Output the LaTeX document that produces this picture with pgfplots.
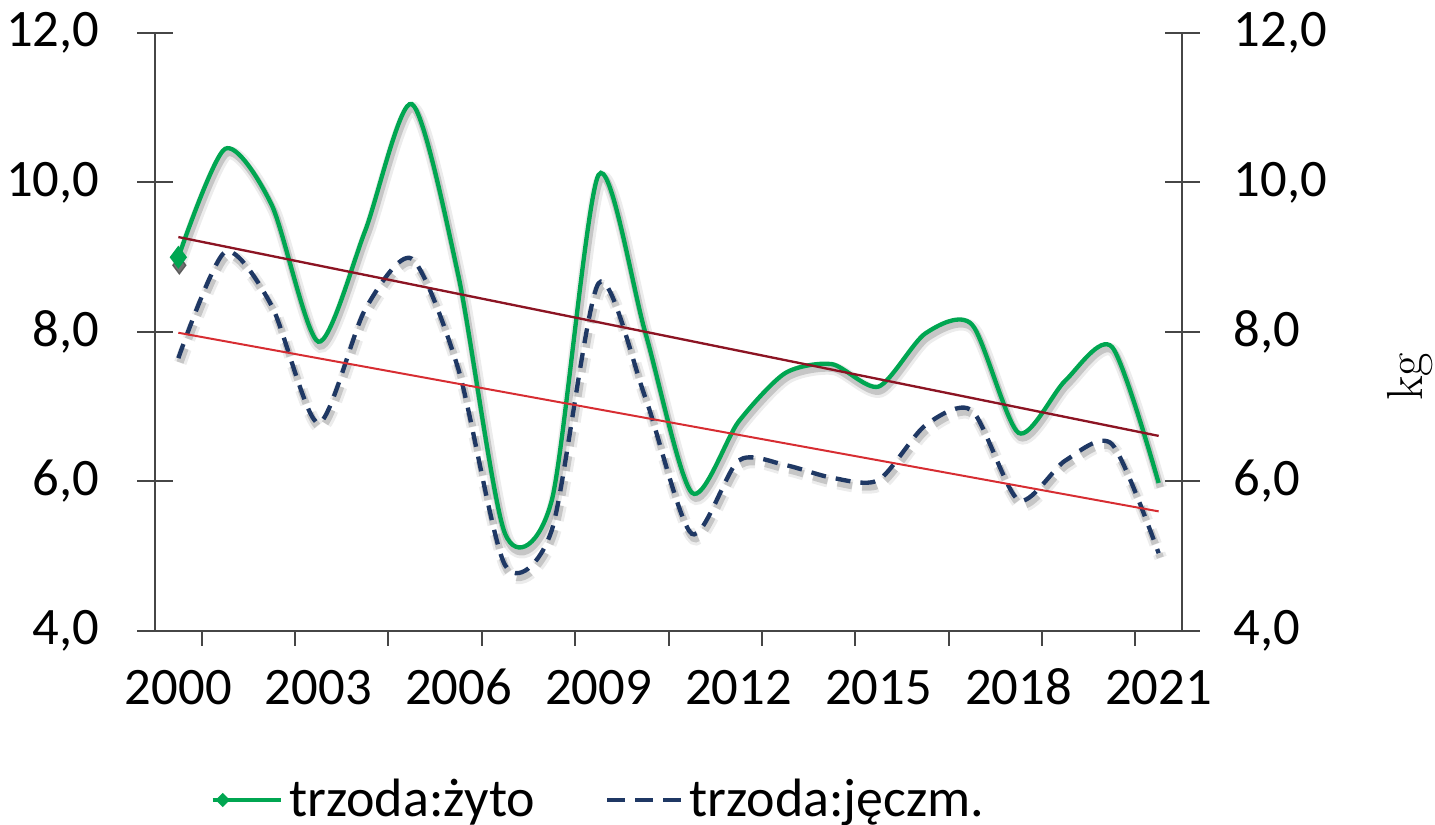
\documentclass[border=0pt]{standalone}
\usepackage{pgfplots}
\pgfplotsset{compat=1.18}
\usepackage{fontspec}
\setmainfont{Carlito}
\usetikzlibrary{shapes.geometric}
\definecolor{zgreen}{RGB}{0,166,81}
\definecolor{jblue}{RGB}{31,56,100}
\definecolor{trA}{RGB}{140,20,35}
\definecolor{trB}{RGB}{215,45,50}
\definecolor{axgray}{RGB}{70,70,70}

\pgfplotstableread{
year zyto jeczm
2000 9.00 7.65
2001 10.45 9.07
2002 9.70 8.35
2003 7.87 6.78
2004 9.35 8.30
2005 11.05 8.98
2006 8.75 7.50
2007 5.30 4.88
2008 5.75 5.35
2009 10.10 8.65
2010 8.00 7.13
2011 5.85 5.30
2012 6.80 6.28
2013 7.45 6.22
2014 7.57 6.05
2015 7.27 6.02
2016 7.98 6.75
2017 8.10 6.95
2018 6.65 5.75
2019 7.35 6.28
2020 7.80 6.50
2021 5.98 5.04
}\data

\newcommand\tfont{\fontsize{15.8}{18.8}\selectfont}
\newcommand\lfont{\fontsize{16.2}{19.4}\selectfont}

\pgfplotsset{base/.style={scale only axis, width=308.1pt, height=179.4pt,
  xmin=1999.5, xmax=2021.5, ymin=4, ymax=12,
  axis line style={axgray, line width=0.6pt},
  every tick/.style={axgray, line width=0.6pt},
  /pgf/number format/assume math mode=true},
  sm/.style={smooth, tension=0.45}}

\begin{document}
\begin{tikzpicture}
% x labels and x tick marks
\begin{axis}[base, axis x line*=bottom, axis y line=none, ytick=\empty,
  xtick={2000,2003,...,2021},
  xticklabels={2000,2003,2006,2009,2012,2015,2018,2021},
  major tick length=0pt,
  minor xtick={2000.5,2002.5,...,2020.5},
  minor tick length=4.5pt, tick align=outside,
  xticklabel style={font=\tfont, anchor=base, inner sep=0pt, yshift=-22.2pt}]
\end{axis}
% right axis
\begin{axis}[base, axis y line*=right, axis x line=none, xtick=\empty,
  ytick={4,6,...,12}, tick align=center, major tick length=10.5pt,
  yticklabel style={font=\tfont, anchor=west, inner sep=0pt, xshift=10.05pt,
    /pgf/number format/.cd, fixed, fixed zerofill, precision=1, use comma},
  ylabel={kg},
  every axis y label/.style={at={(axis description cs:1.222,0.425)}, rotate=90, anchor=center,
    font=\fontfamily{lmr}\fontsize{15.2}{18}\selectfont}]
\end{axis}
% main axis
\begin{axis}[base, name=ax, axis x line*=bottom, axis y line*=left, xtick=\empty,
  ytick={4,6,...,12}, tick align=center, major tick length=10.5pt,
  yticklabel style={font=\tfont, anchor=east, inner sep=0pt, xshift=-11.25pt,
    /pgf/number format/.cd, fixed, fixed zerofill, precision=1, use comma},
  legend columns=2,
  legend style={at={(0.434,-0.2826)}, anchor=center, draw=none, fill=none,
    font=\lfont, inner sep=0pt,
    nodes={inner xsep=2pt, inner ysep=1pt},
    /tikz/every even column/.append style={column sep=19pt}},
  legend cell align=left]
% shadows
\addplot[sm, gray, opacity=0.15, line width=3.8pt, xshift=0.6pt, yshift=-1.4pt, forget plot] table[x=year,y=zyto]{\data};
\addplot[sm, gray, opacity=0.35, line width=2.2pt, xshift=0.5pt, yshift=-1.3pt, forget plot] table[x=year,y=zyto]{\data};
\addplot[sm, gray, opacity=0.15, line width=3.8pt, xshift=0.6pt, yshift=-1.4pt, dash pattern=on 4.5pt off 3pt, forget plot] table[x=year,y=jeczm]{\data};
\addplot[sm, gray, opacity=0.35, line width=2.2pt, xshift=0.5pt, yshift=-1.3pt, dash pattern=on 4.5pt off 3pt, forget plot] table[x=year,y=jeczm]{\data};
\addplot[only marks, mark=diamond*, mark size=2.6pt, black!70, opacity=0.8, xshift=0.3pt, yshift=-2.4pt, forget plot] coordinates {(2000,9.0)};
% series
\addplot[sm, zgreen, line width=1.3pt, mark=diamond*, mark indices={1}, mark size=2.4pt,
  mark options={solid, fill=zgreen},
  legend image code/.code={\draw[zgreen, line width=1.3pt] (0pt,0pt) -- (20.4pt,0pt);
    \node[diamond, fill=zgreen, inner sep=0pt, minimum width=4.8pt, minimum height=4.8pt] at (0pt,0pt) {};}]
  table[x=year,y=zyto]{\data};
\addlegendentry{trzoda:żyto}
\addplot[sm, jblue, line width=1.3pt, dash pattern=on 4.5pt off 3pt,
  legend image code/.code={\draw[jblue, line width=1.3pt, dash pattern=on 5.4pt off 3pt] (0pt,0pt) -- (22pt,0pt);}]
  table[x=year,y=jeczm]{\data};
\addlegendentry{trzoda:jęczm.}
% trend lines
\addplot[sharp plot, trA, line width=0.7pt, forget plot] coordinates {(2000,9.27) (2021,6.61)};
\addplot[sharp plot, trB, line width=0.6pt, forget plot] coordinates {(2000,7.99) (2021,5.60)};
\end{axis}
\path (ax.south west) ++(-46.5pt,-58.2pt) coordinate (BL);
\path (ax.north east) ++(75.9pt,9.9pt) coordinate (TR);
\pgfresetboundingbox
\path[use as bounding box] (BL) rectangle (TR);
\end{tikzpicture}
\end{document}
